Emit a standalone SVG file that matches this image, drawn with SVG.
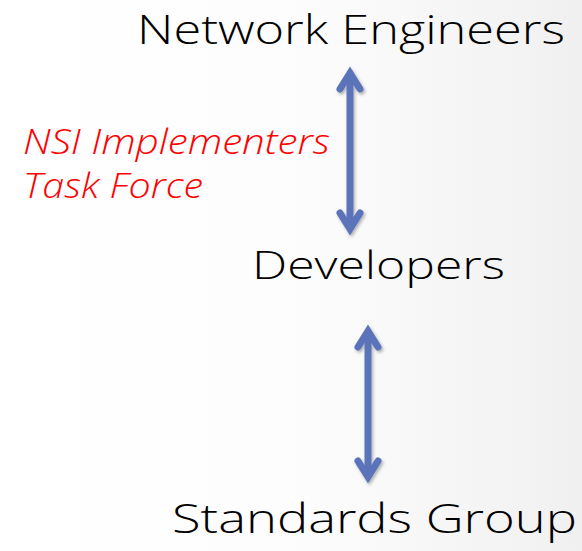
<svg xmlns="http://www.w3.org/2000/svg" width="582" height="551" viewBox="0 0 582 551">
  <defs>
    <linearGradient id="bg" x1="0" y1="0" x2="1" y2="0">
      <stop offset="0" stop-color="#ffffff"/>
      <stop offset="0.5" stop-color="#fdfdfd"/>
      <stop offset="1" stop-color="#f0f0f0"/>
    </linearGradient>
    <filter id="sh" x="-50%" y="-10%" width="200%" height="120%">
      <feDropShadow dx="1.5" dy="2" stdDeviation="1.5" flood-color="#000" flood-opacity="0.3"/>
    </filter>
  </defs>
  <style>
    .lbl { font-family: "Open Sans", "DejaVu Sans", sans-serif; font-weight: 300; font-size: 40px; fill: #000; }
    .red { font-family: "Open Sans", "DejaVu Sans", sans-serif; font-weight: 300; font-size: 35px; font-style: italic; fill: #ff0000; }
    .arr { fill: none; stroke: #5a73b9; stroke-width: 7; stroke-linecap: round; stroke-linejoin: miter; stroke-miterlimit: 10; }
  </style>
  <rect width="582" height="551" fill="url(#bg)"/>

  <g id="connectors" filter="url(#sh)">
    <g id="arrow1" class="arr">
      <path d="M350 75 L350 227"/>
      <path d="M340 89 L350 73 L360 89"/>
      <path d="M340 213 L350 229 L360 213"/>
    </g>
    <g id="arrow2" class="arr">
      <path d="M368 333 L368 475"/>
      <path d="M358 347 L368 331 L378 347"/>
      <path d="M358 461 L368 477 L378 461"/>
    </g>
  </g>

  <g id="node-network-engineers">
    <text class="lbl" x="137" y="44" textLength="428" lengthAdjust="spacingAndGlyphs">Network Engineers</text>
  </g>
  <g id="node-developers">
    <text class="lbl" x="252" y="279" textLength="253" lengthAdjust="spacingAndGlyphs" style="font-size:38px">Developers</text>
  </g>
  <g id="node-standards-group">
    <text class="lbl" x="172" y="533" textLength="405" lengthAdjust="spacingAndGlyphs">Standards Group</text>
  </g>
  <g id="label-nsi">
    <text class="red" x="23" y="154" textLength="307" lengthAdjust="spacingAndGlyphs">NSI Implementers</text>
    <text class="red" x="23" y="198" textLength="180" lengthAdjust="spacingAndGlyphs">Task Force</text>
  </g>
</svg>
